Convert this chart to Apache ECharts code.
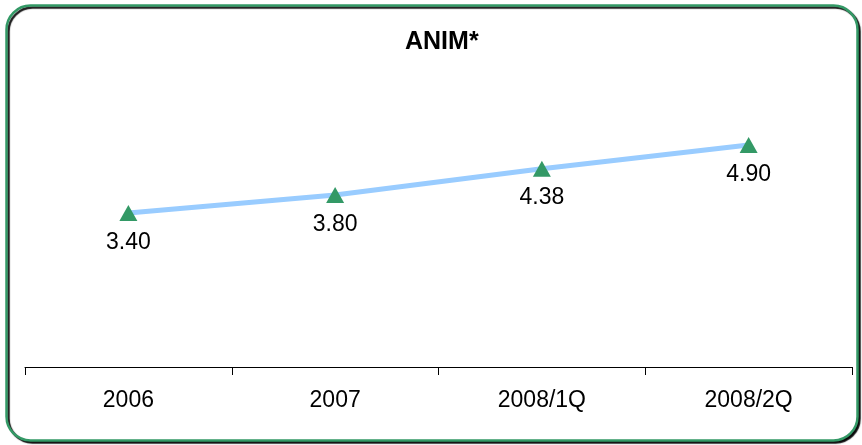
<!DOCTYPE html>
<html><head><meta charset="utf-8">
<script src="https://cdn.jsdelivr.net/npm/echarts@6/dist/echarts.min.js"></script>
<style>html,body{margin:0;padding:0;background:#fff}#c{width:862px;height:445px}</style>
</head><body><div id="c"></div>
<script>
const categories = ['2006', '2007', '2008/1Q', '2008/2Q'];
const values = [3.40, 3.80, 4.38, 4.90];
const titleText = 'ANIM*';

const chart = echarts.init(document.getElementById('c'), null, {renderer: 'canvas'});
chart.setOption({
  backgroundColor: '#fff',
  animation: false,
  graphic: [{
    type: 'rect', z: -1,
    shape: {x: 6.5, y: 5.5, width: 851, height: 435, r: 24},
    style: {fill: '#fff', stroke: '#339966', lineWidth: 2.5,
      shadowColor: 'rgba(0,0,0,0.9)', shadowOffsetX: 2, shadowOffsetY: 2, shadowBlur: 1}
  }],
  title: {
    text: titleText, left: 400, top: 25,
    textStyle: {fontFamily: 'Liberation Sans, Arial', fontSize: 25, fontWeight: 'bold', color: '#000'}
  },
  grid: {left: 25, right: 10, top: 50, bottom: 78},
  xAxis: {
    type: 'category', data: categories, boundaryGap: true,
    axisLine: {lineStyle: {color: '#000', width: 1}},
    axisTick: {show: true, length: 8, lineStyle: {color: '#000'}},
    axisLabel: {margin: 22, fontFamily: 'Liberation Sans, Arial', fontSize: 23, color: '#000'}
  },
  yAxis: {
    type: 'value', min: 0, max: 7, show: false, splitLine: {show: false}
  },
  series: [{
    type: 'line', data: values,
    lineStyle: {color: '#99CCFF', width: 5},
    symbol: 'triangle', symbolSize: [18, 16],
    itemStyle: {color: '#339966'},
    label: {show: true, position: 'bottom', distance: 10,
      formatter: p => p.value.toFixed(2),
      fontFamily: 'Liberation Sans, Arial', fontSize: 23, color: '#000'}
  }]
});
</script></body></html>
